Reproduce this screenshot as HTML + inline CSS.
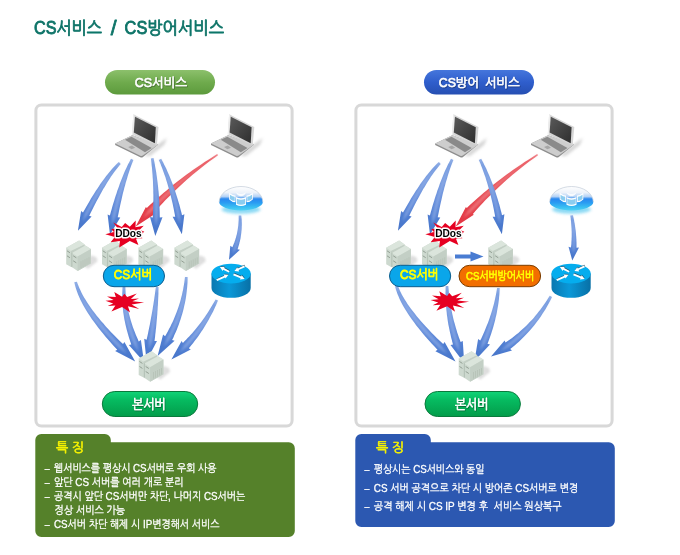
<!DOCTYPE html>
<html lang="ko"><head><meta charset="utf-8"><title>CS서비스 / CS방어서비스</title>
<style>html,body{margin:0;padding:0;background:#fff;}body{width:680px;height:555px;overflow:hidden;font-family:"Liberation Sans","NanumGothic","Noto Sans CJK KR",sans-serif;}svg{display:block;}</style>
</head><body>
<svg width="680" height="555" viewBox="0 0 680 555" font-family="'Liberation Sans','NanumGothic','Noto Sans CJK KR',sans-serif"><defs>
<filter id="soft" x="-20%" y="-20%" width="140%" height="140%"><feGaussianBlur stdDeviation="0.6"/></filter>
<filter id="tb" x="-5%" y="-20%" width="110%" height="140%"><feGaussianBlur stdDeviation="0.3"/></filter>
<filter id="blur3" x="-50%" y="-50%" width="200%" height="200%"><feGaussianBlur stdDeviation="1.2"/></filter>
<filter id="blur2" x="-50%" y="-50%" width="200%" height="200%"><feGaussianBlur stdDeviation="1.6"/></filter>
<filter id="blur1" x="-50%" y="-50%" width="200%" height="200%"><feGaussianBlur stdDeviation="0.9"/></filter>
<filter id="tsh" x="-20%" y="-20%" width="140%" height="160%"><feDropShadow dx="0.6" dy="0.8" stdDeviation="0.5" flood-color="#000" flood-opacity="0.45"/></filter>
<linearGradient id="gpill1" x1="0" y1="0" x2="0" y2="1"><stop offset="0" stop-color="#8cc06c"/><stop offset="0.5" stop-color="#6fab4d"/><stop offset="1" stop-color="#5c9a3c"/></linearGradient>
<linearGradient id="gpill2" x1="0" y1="0" x2="0" y2="1"><stop offset="0" stop-color="#4576dc"/><stop offset="0.5" stop-color="#2f5ecc"/><stop offset="1" stop-color="#264fb2"/></linearGradient>
<linearGradient id="gmain" x1="0" y1="0" x2="0" y2="1"><stop offset="0" stop-color="#10d478"/><stop offset="0.35" stop-color="#06ba60"/><stop offset="1" stop-color="#039c4a"/></linearGradient>
<linearGradient id="gscreen" x1="0" y1="0" x2="1" y2="1"><stop offset="0" stop-color="#5a5a5a"/><stop offset="1" stop-color="#2e2e2e"/></linearGradient>
<linearGradient id="grside" x1="0" y1="0" x2="1" y2="0"><stop offset="0" stop-color="#0a78b0"/><stop offset="0.45" stop-color="#0a98d8"/><stop offset="1" stop-color="#0870a6"/></linearGradient>
<linearGradient id="gdome" x1="0" y1="0" x2="0" y2="1"><stop offset="0" stop-color="#ffffff"/><stop offset="0.25" stop-color="#eef3fa"/><stop offset="0.42" stop-color="#b4d2f6"/><stop offset="0.52" stop-color="#2a88f0"/><stop offset="0.68" stop-color="#2c9cf2"/><stop offset="0.86" stop-color="#38bef2"/><stop offset="1" stop-color="#52d2f4"/></linearGradient>

<symbol id="laptop" overflow="visible">
  <path d="M30 42 L43 31 L53 24 L50 31 L36 42 Z" fill="#aaa" opacity="0.5" filter="url(#blur2)"/>
  <path d="M1.2 29.5 L18.3 21.2 L44.3 30.6 L29 43 Q27.7 43.9 26.3 43.3 L1.2 31 Z" fill="#8e8e8e"/>
  <path d="M1.2 29.5 L18.3 21.2 L44.3 30.6 L28.8 41.6 Q27.6 42.3 26.3 41.8 Z" fill="#cdcdcd"/>
  <path d="M11 25.7 L17.5 22.8 L37.7 34 L31 38.2 Z" fill="#8a8a8a"/>
  <path d="M14.2 33.1 L18 31.5 L21.2 33.7 L17.5 35.3 Z" fill="#a6a6a6"/>
  <path d="M19.3 0.2 L44.5 13.1 L42.9 31.2 L18 20.4 Z" fill="#d6d6d6"/>
  <path d="M19.3 0.2 L20.5 0.6 L19.2 20.9 L18 20.4 Z" fill="#f0f0f0"/>
  <path d="M21 2.7 L41.8 13.2 L40.9 29.3 L19.8 18.6 Z" fill="url(#gscreen)"/>
</symbol>

<symbol id="server" overflow="visible">
  <path d="M18 26 L25 15 L30.5 17 L31.5 21 L22 28.5 Z" fill="#8a8a8a" opacity="0.28" filter="url(#blur3)"/>
  <path d="M0.2 7.5 L13.1 0.3 L18.6 4.2 L18.6 20 L5 26.6 L0.2 24 Z" fill="#cdd9cf"/>
  <path d="M0.2 7.5 L13.1 0.3 L18.6 4.2 L5 10.8 Z" fill="#dbe5dc"/>
  <path d="M5 10.8 L18.6 4.2 L18.6 20 L5 26.6 Z" fill="#c3cfc5"/>
  <path d="M6.1 12.6 L19.4 5.3 L24.9 8.6 L24.9 23.3 L11.6 30.7 L6.1 27 Z" fill="#cdd9cf"/>
  <path d="M6.1 12.6 L19.4 5.3 L24.9 8.6 L11.6 16.3 Z" fill="#dbe5dc"/>
  <path d="M11.6 16.3 L24.9 8.6 L24.9 23.3 L11.6 30.7 Z" fill="#c3cfc5"/>
  <path d="M5.6 12.4 L6.3 12.1 L6.3 27.2 L5.6 26.8 Z" fill="#aebcb0"/>
  <g stroke="#8d998e" stroke-width="1" stroke-linecap="round" opacity="0.9">
    <path d="M1.3 10.7 L3.6 12.2"/><path d="M1.3 15.7 L3.6 17.2"/>
    <path d="M7.5 15.7 L10 17.3"/><path d="M7.5 20.7 L10 22.3"/>
  </g>
  <g stroke="#aebbaf" stroke-width="0.6" opacity="0.9">
    <path d="M15 21 L15 27.6"/><path d="M17 20 L17 26.6"/><path d="M19 19 L19 25.6"/><path d="M21 18 L21 24.4"/><path d="M23 17 L23 23.4"/>
  </g>
</symbol>

<symbol id="router" overflow="visible">
  <path d="M-19.6 0 L-19.6 14.3 A19.6 9.9 0 0 0 19.6 14.3 L19.6 0 Z" fill="url(#grside)"/>
  <ellipse cx="0" cy="0" rx="19.6" ry="9.9" fill="#05adee"/>
  <g fill="#234e66" transform="translate(0.3,-0.7)" opacity="0.85"><path d="M-1.5 -2.7 L-7.0 -5.6 L-6.4 -6.8 L-11.2 -6.6 L-8.5 -2.7 L-7.9 -3.9 L-2.3 -1.1Z"/><path d="M13.0 -8.1 L6.7 -5.2 L6.2 -6.4 L3.3 -2.6 L8.1 -2.2 L7.5 -3.5 L13.8 -6.3Z"/><path d="M-14.0 7.4 L-6.0 3.8 L-5.5 5.0 L-2.6 1.2 L-7.4 0.8 L-6.8 2.1 L-14.8 5.6Z"/><path d="M2.0 1.6 L9.4 4.7 L8.8 5.9 L13.6 5.4 L10.6 1.7 L10.1 2.9 L2.8 -0.2Z"/></g>
  <g fill="#fff"><path d="M-1.5 -2.7 L-7.0 -5.6 L-6.4 -6.8 L-11.2 -6.6 L-8.5 -2.7 L-7.9 -3.9 L-2.3 -1.1Z"/><path d="M13.0 -8.1 L6.7 -5.2 L6.2 -6.4 L3.3 -2.6 L8.1 -2.2 L7.5 -3.5 L13.8 -6.3Z"/><path d="M-14.0 7.4 L-6.0 3.8 L-5.5 5.0 L-2.6 1.2 L-7.4 0.8 L-6.8 2.1 L-14.8 5.6Z"/><path d="M2.0 1.6 L9.4 4.7 L8.8 5.9 L13.6 5.4 L10.6 1.7 L10.1 2.9 L2.8 -0.2Z"/></g>
</symbol>

<symbol id="dome" overflow="visible">
  <ellipse cx="0" cy="7.4" rx="19.5" ry="4.2" fill="#6fd0f2" opacity="0.8" filter="url(#blur2)"/>
  <path d="M-21.8 0 A21.8 15.6 0 0 1 21.8 0 A21.8 8.3 0 0 1 -21.8 0 Z" fill="url(#gdome)" filter="url(#soft)"/>
  <path d="M-21.8 0 A21.8 15.6 0 0 1 21.8 0" fill="none" stroke="#c2ccd8" stroke-width="0.7" filter="url(#soft)"/>
  <g filter="url(#soft)">
   <path d="M-11.8 -9.3 Q-8.5 -6.5 -5.5 -6.6 L-5.5 0.2 Q-9 0.2 -11.8 -2.6 Z" fill="#fff"/>
   <path d="M-5 -5 Q0 -2.6 5 -5 L5 2.6 Q0 5 -5 2.6 Z" fill="#fff"/>
   <path d="M11.8 -9.3 Q8.5 -6.5 5.5 -6.6 L5.5 0.2 Q9 0.2 11.8 -2.6 Z" fill="#fff"/>
   <path d="M-11 -7.3 Q-8.5 -5.4 -6.3 -5.3 L-6.3 -1 Q-9 -1.2 -11 -3 Z" fill="#8ccdf0"/>
   <path d="M-4.2 -3.4 Q0 -1.4 4.2 -3.4 L4.2 1.6 Q0 3.6 -4.2 1.6 Z" fill="#8ccdf0"/>
   <path d="M11 -7.3 Q8.5 -5.4 6.3 -5.3 L6.3 -1 Q9 -1.2 11 -3 Z" fill="#8ccdf0"/>
   <path d="M-5 -9.5 Q0 -7 5 -9.5 Q3 -5.5 0 -6 Q-3 -5.5 -5 -9.5Z" fill="#fff" opacity="0.9"/>
  </g>
</symbol>
</defs><rect width="680" height="555" fill="#fff"/><text y="34" font-size="17.5" fill="#0c7468" stroke="#0c7468" stroke-width="0.85" stroke-linejoin="round" filter="url(#tb)" xml:space="preserve"><tspan x="34" textLength="68" lengthAdjust="spacingAndGlyphs">CS서비스</tspan><tspan x="103.6" y="35" font-size="21" textLength="20" lengthAdjust="spacing"> / </tspan><tspan x="124.6" y="34" font-size="17.5" textLength="99.4" lengthAdjust="spacingAndGlyphs">CS방어서비스</tspan></text><rect x="105" y="70" width="110" height="24.5" rx="12.25" fill="url(#gpill1)"/><text x="161.0" y="87.0" font-size="12.5" font-weight="normal" fill="#fff" text-anchor="middle" textLength="52.4" lengthAdjust="spacingAndGlyphs" stroke="#fff" stroke-width="0.55" filter="url(#tsh)">CS서비스</text><rect x="424" y="70" width="110" height="24.5" rx="12.25" fill="url(#gpill2)"/><text y="87" font-size="12.5" fill="#fff" stroke="#fff" stroke-width="0.55" filter="url(#tsh)" xml:space="preserve"><tspan x="438.8" textLength="40.2" lengthAdjust="spacingAndGlyphs">CS방어</tspan><tspan x="481.6" textLength="38.2" lengthAdjust="spacingAndGlyphs"> 서비스</tspan></text><rect x="35.9" y="105" width="256.2" height="321" rx="5.5" ry="5.5" fill="#fff" stroke="#d8d8d8" stroke-width="3" filter="url(#tb)"/><use href="#laptop" x="114.0" y="114.0"/><use href="#laptop" x="209.8" y="114.0"/><use href="#server" x="66.0" y="240.3"/><use href="#server" x="101.8" y="240.3"/><use href="#server" x="138.2" y="240.3"/><use href="#server" x="174.2" y="240.3"/><use href="#dome" x="241.0" y="202.1"/><use href="#router" x="231.1" y="273.6"/><linearGradient id="ag1" gradientUnits="userSpaceOnUse" x1="217.6" y1="154.7" x2="135.7" y2="226.4"><stop offset="0" stop-color="#ea5a62" stop-opacity="0.75"/><stop offset="0.1" stop-color="#ea5a62" stop-opacity="1"/><stop offset="0.55" stop-color="#e8525a"/><stop offset="0.8" stop-color="#e4404a"/><stop offset="1" stop-color="#e23442"/></linearGradient><path d="M217.2 154.1 L214.1 156.0 L211.1 157.9 L208.0 159.9 L205.0 161.8 L201.9 163.9 L198.9 165.9 L195.9 168.0 L192.9 170.1 L189.9 172.2 L187.0 174.3 L184.0 176.5 L181.1 178.8 L178.1 181.0 L175.2 183.3 L172.3 185.6 L169.4 188.0 L166.6 190.4 L163.7 192.8 L160.9 195.2 L158.0 197.7 L155.2 200.2 L152.4 202.8 L149.6 205.3 L146.8 208.0 L145.9 207.1 L135.7 226.4 L153.8 214.7 L152.9 213.9 L155.4 211.1 L157.9 208.3 L160.4 205.5 L163.0 202.8 L165.5 200.1 L168.1 197.5 L170.7 194.9 L173.3 192.3 L176.0 189.7 L178.6 187.2 L181.3 184.7 L184.0 182.3 L186.7 179.8 L189.4 177.4 L192.2 175.1 L195.0 172.7 L197.8 170.4 L200.6 168.2 L203.4 165.9 L206.3 163.7 L209.2 161.6 L212.1 159.4 L215.0 157.4 L218.0 155.3Z" fill="url(#ag1)" filter="url(#soft)"/><path d="M217.4 154.4 L214.4 156.4 L211.4 158.4 L208.4 160.4 L205.4 162.4 L202.4 164.5 L199.4 166.6 L196.5 168.7 L193.5 170.8 L190.6 173.0 L187.7 175.2 L184.8 177.5 L181.9 179.8 L179.1 182.1 L176.2 184.4 L173.4 186.8 L170.6 189.2 L167.8 191.7 L165.0 194.1 L162.2 196.6 L159.5 199.2 L156.7 201.8 L154.0 204.4 L151.3 207.0 L148.6 209.7 L143.3 217.7 L151.2 212.1 L153.7 209.4 L156.3 206.7 L158.9 204.0 L161.5 201.3 L164.2 198.7 L166.8 196.1 L169.5 193.6 L172.2 191.0 L174.9 188.5 L177.6 186.1 L180.4 183.6 L183.1 181.2 L185.9 178.9 L188.7 176.5 L191.5 174.2 L194.4 172.0 L197.2 169.7 L200.1 167.5 L203.0 165.3 L205.9 163.2 L208.9 161.1 L211.8 159.0 L214.8 157.0 L217.8 155.0Z" fill="#f4a2a6" opacity="0.45" filter="url(#blur1)"/><linearGradient id="ag2" gradientUnits="userSpaceOnUse" x1="119.8" y1="163.0" x2="77.9" y2="230.8"><stop offset="0" stop-color="#6a92dc" stop-opacity="0.75"/><stop offset="0.08" stop-color="#7298de" stop-opacity="1"/><stop offset="0.3" stop-color="#789ce0"/><stop offset="0.55" stop-color="#668edb"/><stop offset="0.8" stop-color="#4f7dd1"/><stop offset="1" stop-color="#4674c8"/></linearGradient><path d="M118.9 162.1 L117.5 163.3 L116.2 164.6 L114.8 166.0 L113.4 167.5 L112.0 169.1 L110.6 170.7 L109.1 172.4 L107.7 174.2 L106.2 176.0 L104.8 177.9 L103.3 179.9 L101.8 182.0 L100.3 184.1 L98.8 186.4 L97.3 188.7 L95.7 191.0 L94.2 193.5 L92.6 196.0 L91.0 198.6 L89.5 201.2 L87.9 204.0 L86.3 206.8 L84.6 209.7 L83.0 212.6 L81.1 211.1 L77.9 230.8 L91.6 216.5 L89.2 215.8 L90.7 212.8 L92.1 209.9 L93.6 207.1 L95.0 204.3 L96.4 201.6 L97.8 198.9 L99.2 196.4 L100.5 193.9 L101.9 191.5 L103.2 189.1 L104.6 186.9 L105.9 184.7 L107.2 182.5 L108.5 180.5 L109.8 178.5 L111.0 176.6 L112.3 174.8 L113.5 173.0 L114.8 171.3 L116.0 169.7 L117.2 168.2 L118.4 166.7 L119.6 165.3 L120.7 163.9Z" fill="url(#ag2)" filter="url(#soft)"/><path d="M119.4 162.6 L118.1 163.9 L116.8 165.2 L115.5 166.6 L114.1 168.1 L112.8 169.7 L111.4 171.4 L110.1 173.1 L108.7 174.9 L107.3 176.7 L105.9 178.7 L104.4 180.7 L103.0 182.8 L101.5 184.9 L100.1 187.2 L98.6 189.5 L97.1 191.9 L95.6 194.3 L94.1 196.8 L92.6 199.4 L91.1 202.1 L89.5 204.9 L88.0 207.7 L86.4 210.6 L84.8 213.5 L82.3 221.6 L87.4 214.9 L88.9 211.9 L90.4 209.0 L91.9 206.2 L93.4 203.4 L94.8 200.7 L96.3 198.1 L97.7 195.5 L99.1 193.1 L100.6 190.7 L101.9 188.3 L103.3 186.1 L104.7 183.9 L106.1 181.8 L107.4 179.8 L108.7 177.8 L110.1 175.9 L111.4 174.1 L112.7 172.3 L114.0 170.7 L115.2 169.1 L116.5 167.5 L117.7 166.1 L119.0 164.7 L120.2 163.4Z" fill="#a9c1ee" opacity="0.45" filter="url(#blur1)"/><linearGradient id="ag3" gradientUnits="userSpaceOnUse" x1="132.2" y1="159.4" x2="110.0" y2="234.5"><stop offset="0" stop-color="#6a92dc" stop-opacity="0.75"/><stop offset="0.08" stop-color="#7298de" stop-opacity="1"/><stop offset="0.3" stop-color="#789ce0"/><stop offset="0.55" stop-color="#668edb"/><stop offset="0.8" stop-color="#4f7dd1"/><stop offset="1" stop-color="#4674c8"/></linearGradient><path d="M131.0 158.8 L130.1 160.6 L129.1 162.4 L128.1 164.3 L127.2 166.2 L126.3 168.2 L125.3 170.3 L124.4 172.3 L123.5 174.5 L122.6 176.7 L121.7 178.9 L120.8 181.2 L119.9 183.5 L119.1 185.9 L118.2 188.4 L117.3 190.8 L116.5 193.4 L115.6 196.0 L114.8 198.6 L114.0 201.3 L113.1 204.0 L112.3 206.8 L111.5 209.7 L110.7 212.6 L109.9 215.5 L107.6 214.5 L110.0 234.5 L120.3 217.4 L117.7 217.3 L118.3 214.4 L118.9 211.5 L119.5 208.6 L120.1 205.8 L120.7 203.1 L121.3 200.4 L121.9 197.7 L122.5 195.1 L123.1 192.6 L123.8 190.1 L124.4 187.6 L125.1 185.2 L125.7 182.8 L126.4 180.5 L127.1 178.2 L127.7 176.0 L128.4 173.8 L129.1 171.7 L129.8 169.6 L130.5 167.6 L131.2 165.6 L131.9 163.7 L132.7 161.8 L133.4 160.0Z" fill="url(#ag3)" filter="url(#soft)"/><path d="M131.7 159.2 L130.8 161.0 L129.9 162.8 L129.0 164.7 L128.2 166.6 L127.3 168.6 L126.4 170.7 L125.6 172.8 L124.7 174.9 L123.9 177.1 L123.1 179.4 L122.2 181.7 L121.4 184.0 L120.6 186.4 L119.8 188.8 L119.0 191.3 L118.2 193.9 L117.4 196.5 L116.7 199.1 L115.9 201.8 L115.2 204.6 L114.4 207.4 L113.7 210.2 L112.9 213.1 L112.2 216.0 L112.0 224.5 L115.5 216.8 L116.1 213.8 L116.7 210.9 L117.4 208.1 L118.1 205.3 L118.7 202.6 L119.4 199.9 L120.1 197.2 L120.8 194.6 L121.5 192.1 L122.2 189.6 L122.9 187.1 L123.6 184.7 L124.3 182.3 L125.0 180.0 L125.8 177.8 L126.5 175.6 L127.3 173.4 L128.0 171.3 L128.8 169.2 L129.5 167.2 L130.3 165.3 L131.1 163.3 L131.9 161.5 L132.7 159.6Z" fill="#a9c1ee" opacity="0.45" filter="url(#blur1)"/><linearGradient id="ag4" gradientUnits="userSpaceOnUse" x1="152.2" y1="158.2" x2="155.3" y2="236.0"><stop offset="0" stop-color="#6a92dc" stop-opacity="0.75"/><stop offset="0.08" stop-color="#7298de" stop-opacity="1"/><stop offset="0.3" stop-color="#789ce0"/><stop offset="0.55" stop-color="#668edb"/><stop offset="0.8" stop-color="#4f7dd1"/><stop offset="1" stop-color="#4674c8"/></linearGradient><path d="M150.9 158.4 L151.2 160.8 L151.5 163.2 L151.7 165.6 L152.0 168.0 L152.2 170.4 L152.4 172.8 L152.6 175.2 L152.7 177.6 L152.9 180.1 L153.0 182.5 L153.1 184.9 L153.2 187.4 L153.3 189.9 L153.3 192.3 L153.4 194.8 L153.4 197.3 L153.4 199.8 L153.3 202.3 L153.3 204.8 L153.2 207.3 L153.1 209.8 L153.0 212.4 L152.9 214.9 L152.8 217.4 L150.0 216.9 L155.3 236.0 L162.5 217.2 L159.8 217.6 L159.7 215.0 L159.7 212.4 L159.6 209.8 L159.5 207.3 L159.4 204.7 L159.3 202.2 L159.1 199.6 L159.0 197.1 L158.8 194.6 L158.6 192.1 L158.3 189.6 L158.1 187.1 L157.8 184.6 L157.5 182.1 L157.2 179.7 L156.9 177.2 L156.5 174.8 L156.2 172.3 L155.8 169.9 L155.3 167.5 L154.9 165.1 L154.5 162.7 L154.0 160.3 L153.5 158.0Z" fill="url(#ag4)" filter="url(#soft)"/><path d="M151.7 158.3 L152.0 160.7 L152.3 163.0 L152.7 165.4 L153.0 167.8 L153.2 170.2 L153.5 172.7 L153.7 175.1 L153.9 177.5 L154.1 179.9 L154.3 182.4 L154.5 184.8 L154.6 187.3 L154.7 189.8 L154.8 192.3 L154.9 194.7 L155.0 197.2 L155.0 199.7 L155.1 202.3 L155.1 204.8 L155.1 207.3 L155.0 209.8 L155.0 212.4 L154.9 214.9 L154.8 217.5 L156.1 225.8 L157.7 217.6 L157.8 215.0 L157.8 212.4 L157.7 209.8 L157.7 207.3 L157.6 204.7 L157.6 202.2 L157.5 199.7 L157.3 197.2 L157.2 194.6 L157.0 192.1 L156.9 189.7 L156.7 187.2 L156.5 184.7 L156.2 182.2 L156.0 179.8 L155.7 177.3 L155.4 174.9 L155.1 172.5 L154.7 170.1 L154.4 167.6 L154.0 165.2 L153.6 162.9 L153.2 160.5 L152.7 158.1Z" fill="#a9c1ee" opacity="0.45" filter="url(#blur1)"/><linearGradient id="ag5" gradientUnits="userSpaceOnUse" x1="160.0" y1="159.4" x2="181.9" y2="234.2"><stop offset="0" stop-color="#6a92dc" stop-opacity="0.75"/><stop offset="0.08" stop-color="#7298de" stop-opacity="1"/><stop offset="0.3" stop-color="#789ce0"/><stop offset="0.55" stop-color="#668edb"/><stop offset="0.8" stop-color="#4f7dd1"/><stop offset="1" stop-color="#4674c8"/></linearGradient><path d="M158.8 160.0 L159.7 162.0 L160.6 164.1 L161.4 166.2 L162.2 168.3 L163.0 170.5 L163.8 172.7 L164.6 174.9 L165.4 177.1 L166.1 179.4 L166.8 181.7 L167.5 184.0 L168.2 186.4 L168.9 188.7 L169.6 191.1 L170.2 193.6 L170.8 196.0 L171.4 198.5 L172.0 201.0 L172.6 203.6 L173.1 206.1 L173.7 208.7 L174.2 211.4 L174.7 214.0 L175.2 216.7 L172.6 216.7 L181.9 234.2 L184.4 214.3 L182.0 215.3 L181.4 212.6 L180.7 209.9 L180.0 207.3 L179.3 204.6 L178.5 202.1 L177.8 199.5 L177.0 197.0 L176.2 194.5 L175.4 192.0 L174.6 189.6 L173.7 187.2 L172.9 184.8 L172.0 182.5 L171.1 180.2 L170.2 177.9 L169.3 175.7 L168.3 173.4 L167.3 171.3 L166.4 169.1 L165.4 167.0 L164.3 164.9 L163.3 162.8 L162.2 160.8 L161.2 158.8Z" fill="url(#ag5)" filter="url(#soft)"/><path d="M159.5 159.6 L160.4 161.7 L161.4 163.7 L162.3 165.8 L163.1 167.9 L164.0 170.1 L164.9 172.3 L165.7 174.5 L166.5 176.7 L167.3 179.0 L168.1 181.2 L168.8 183.6 L169.6 185.9 L170.3 188.3 L171.0 190.7 L171.7 193.1 L172.4 195.6 L173.0 198.1 L173.7 200.6 L174.3 203.1 L174.9 205.7 L175.5 208.3 L176.1 210.9 L176.6 213.6 L177.2 216.3 L180.3 224.1 L180.0 215.7 L179.4 213.0 L178.8 210.3 L178.1 207.7 L177.5 205.1 L176.8 202.5 L176.1 200.0 L175.4 197.4 L174.6 194.9 L173.9 192.5 L173.1 190.0 L172.3 187.6 L171.5 185.3 L170.7 182.9 L169.9 180.6 L169.0 178.3 L168.1 176.1 L167.2 173.9 L166.3 171.7 L165.4 169.5 L164.5 167.4 L163.5 165.3 L162.5 163.2 L161.5 161.2 L160.5 159.2Z" fill="#a9c1ee" opacity="0.45" filter="url(#blur1)"/><linearGradient id="ag6" gradientUnits="userSpaceOnUse" x1="240.0" y1="215.5" x2="229.0" y2="259.8"><stop offset="0" stop-color="#6a92dc" stop-opacity="0.75"/><stop offset="0.08" stop-color="#7298de" stop-opacity="1"/><stop offset="0.3" stop-color="#789ce0"/><stop offset="0.55" stop-color="#668edb"/><stop offset="0.8" stop-color="#4f7dd1"/><stop offset="1" stop-color="#4674c8"/></linearGradient><path d="M238.7 215.6 L238.7 217.0 L238.7 218.5 L238.7 219.9 L238.6 221.3 L238.5 222.7 L238.4 224.1 L238.3 225.4 L238.1 226.8 L237.9 228.2 L237.7 229.5 L237.5 230.8 L237.2 232.2 L237.0 233.5 L236.7 234.8 L236.3 236.1 L236.0 237.4 L235.6 238.6 L235.2 239.9 L234.8 241.1 L234.4 242.4 L233.9 243.6 L233.4 244.8 L232.9 246.0 L232.4 247.2 L230.3 245.8 L229.0 259.8 L240.0 249.8 L237.5 249.3 L238.0 247.9 L238.4 246.6 L238.8 245.3 L239.2 243.9 L239.5 242.5 L239.9 241.2 L240.2 239.8 L240.5 238.4 L240.7 237.0 L240.9 235.6 L241.1 234.2 L241.3 232.8 L241.4 231.4 L241.6 230.0 L241.7 228.5 L241.7 227.1 L241.8 225.7 L241.8 224.2 L241.8 222.8 L241.7 221.3 L241.7 219.8 L241.6 218.4 L241.4 216.9 L241.3 215.4Z" fill="url(#ag6)" filter="url(#soft)"/><path d="M239.5 215.5 L239.5 217.0 L239.5 218.4 L239.5 219.9 L239.5 221.3 L239.5 222.7 L239.4 224.1 L239.3 225.5 L239.2 226.9 L239.0 228.3 L238.8 229.6 L238.6 231.0 L238.4 232.4 L238.2 233.7 L237.9 235.0 L237.6 236.3 L237.3 237.7 L237.0 239.0 L236.6 240.3 L236.2 241.5 L235.8 242.8 L235.3 244.1 L234.9 245.3 L234.4 246.6 L233.9 247.8 L232.7 253.7 L236.0 248.7 L236.5 247.4 L237.0 246.1 L237.4 244.8 L237.8 243.5 L238.2 242.1 L238.5 240.8 L238.9 239.4 L239.2 238.1 L239.4 236.7 L239.7 235.4 L239.9 234.0 L240.1 232.6 L240.3 231.2 L240.5 229.8 L240.6 228.4 L240.7 227.0 L240.7 225.6 L240.8 224.2 L240.8 222.7 L240.8 221.3 L240.8 219.9 L240.7 218.4 L240.7 216.9 L240.5 215.5Z" fill="#a9c1ee" opacity="0.45" filter="url(#blur1)"/><linearGradient id="ag7" gradientUnits="userSpaceOnUse" x1="75.6" y1="282.0" x2="135.2" y2="361.5"><stop offset="0" stop-color="#6a92dc" stop-opacity="0.75"/><stop offset="0.08" stop-color="#7298de" stop-opacity="1"/><stop offset="0.3" stop-color="#789ce0"/><stop offset="0.55" stop-color="#668edb"/><stop offset="0.8" stop-color="#4f7dd1"/><stop offset="1" stop-color="#4674c8"/></linearGradient><path d="M74.3 282.3 L74.9 284.7 L75.5 287.1 L76.3 289.5 L77.2 292.0 L78.1 294.5 L79.2 297.1 L80.4 299.7 L81.7 302.3 L83.1 305.0 L84.7 307.7 L86.3 310.4 L88.0 313.2 L89.9 316.1 L91.8 318.9 L93.9 321.8 L96.1 324.8 L98.3 327.8 L100.7 330.8 L103.2 333.8 L105.8 336.9 L108.5 340.1 L111.3 343.2 L114.2 346.5 L117.3 349.7 L115.1 351.1 L135.2 361.5 L124.4 342.0 L123.0 344.1 L119.8 341.1 L116.8 338.1 L113.9 335.1 L111.1 332.2 L108.4 329.3 L105.8 326.4 L103.4 323.6 L101.0 320.9 L98.7 318.1 L96.5 315.4 L94.5 312.8 L92.5 310.2 L90.6 307.6 L88.9 305.1 L87.2 302.6 L85.7 300.1 L84.2 297.7 L82.8 295.3 L81.6 292.9 L80.5 290.6 L79.4 288.3 L78.5 286.1 L77.6 283.8 L76.9 281.7Z" fill="url(#ag7)" filter="url(#soft)"/><path d="M75.1 282.1 L75.7 284.4 L76.4 286.8 L77.2 289.2 L78.1 291.6 L79.1 294.0 L80.3 296.5 L81.5 299.1 L82.9 301.7 L84.3 304.3 L85.9 306.9 L87.6 309.6 L89.3 312.3 L91.2 315.1 L93.2 317.9 L95.3 320.8 L97.5 323.6 L99.8 326.6 L102.2 329.5 L104.7 332.5 L107.4 335.6 L110.1 338.6 L112.9 341.7 L115.9 344.9 L118.9 348.1 L126.7 353.6 L121.3 345.7 L118.2 342.6 L115.2 339.6 L112.4 336.5 L109.6 333.6 L106.9 330.6 L104.4 327.7 L101.9 324.8 L99.6 322.0 L97.3 319.2 L95.2 316.5 L93.1 313.7 L91.2 311.1 L89.4 308.4 L87.6 305.8 L86.0 303.3 L84.5 300.7 L83.1 298.2 L81.8 295.8 L80.6 293.4 L79.5 291.0 L78.5 288.7 L77.6 286.4 L76.8 284.1 L76.1 281.9Z" fill="#a9c1ee" opacity="0.45" filter="url(#blur1)"/><linearGradient id="ag8" gradientUnits="userSpaceOnUse" x1="124.0" y1="286.0" x2="144.0" y2="362.0"><stop offset="0" stop-color="#6a92dc" stop-opacity="0.75"/><stop offset="0.08" stop-color="#7298de" stop-opacity="1"/><stop offset="0.3" stop-color="#789ce0"/><stop offset="0.55" stop-color="#668edb"/><stop offset="0.8" stop-color="#4f7dd1"/><stop offset="1" stop-color="#4674c8"/></linearGradient><path d="M122.7 285.9 L122.5 288.3 L122.4 290.6 L122.3 292.9 L122.2 295.3 L122.2 297.6 L122.3 300.0 L122.4 302.4 L122.5 304.8 L122.7 307.2 L123.0 309.6 L123.2 312.0 L123.6 314.4 L124.0 316.9 L124.4 319.4 L124.9 321.8 L125.4 324.3 L126.0 326.8 L126.6 329.3 L127.3 331.8 L128.0 334.3 L128.8 336.9 L129.6 339.4 L130.4 342.0 L131.3 344.5 L128.8 345.0 L144.0 362.0 L140.9 340.1 L138.7 341.5 L137.7 339.1 L136.7 336.8 L135.7 334.4 L134.8 332.1 L133.9 329.7 L133.0 327.4 L132.2 325.0 L131.5 322.7 L130.8 320.4 L130.1 318.0 L129.5 315.7 L128.9 313.4 L128.3 311.1 L127.8 308.8 L127.4 306.5 L127.0 304.2 L126.6 301.9 L126.3 299.7 L126.0 297.4 L125.8 295.1 L125.6 292.8 L125.5 290.6 L125.4 288.3 L125.3 286.1Z" fill="url(#ag8)" filter="url(#soft)"/><path d="M123.5 286.0 L123.3 288.3 L123.3 290.6 L123.2 292.9 L123.3 295.2 L123.3 297.5 L123.4 299.9 L123.6 302.2 L123.8 304.6 L124.1 307.0 L124.4 309.4 L124.7 311.7 L125.1 314.1 L125.6 316.6 L126.0 319.0 L126.6 321.4 L127.2 323.8 L127.8 326.3 L128.5 328.7 L129.2 331.2 L129.9 333.7 L130.8 336.2 L131.6 338.6 L132.5 341.1 L133.5 343.7 L138.6 351.8 L136.6 342.4 L135.6 340.0 L134.6 337.5 L133.7 335.1 L132.8 332.7 L132.0 330.3 L131.2 327.9 L130.4 325.5 L129.7 323.2 L129.0 320.8 L128.4 318.4 L127.9 316.1 L127.3 313.7 L126.9 311.4 L126.4 309.0 L126.0 306.7 L125.7 304.4 L125.4 302.1 L125.1 299.8 L124.9 297.4 L124.8 295.2 L124.6 292.9 L124.6 290.6 L124.5 288.3 L124.5 286.0Z" fill="#a9c1ee" opacity="0.45" filter="url(#blur1)"/><linearGradient id="ag9" gradientUnits="userSpaceOnUse" x1="157.2" y1="287.0" x2="146.5" y2="361.0"><stop offset="0" stop-color="#6a92dc" stop-opacity="0.75"/><stop offset="0.08" stop-color="#7298de" stop-opacity="1"/><stop offset="0.3" stop-color="#789ce0"/><stop offset="0.55" stop-color="#668edb"/><stop offset="0.8" stop-color="#4f7dd1"/><stop offset="1" stop-color="#4674c8"/></linearGradient><path d="M155.9 286.9 L155.6 289.1 L155.3 291.3 L155.0 293.5 L154.7 295.7 L154.4 297.8 L154.1 300.0 L153.7 302.2 L153.4 304.4 L153.0 306.6 L152.7 308.8 L152.3 311.0 L151.9 313.2 L151.5 315.4 L151.1 317.6 L150.7 319.8 L150.3 322.0 L149.9 324.2 L149.4 326.4 L149.0 328.6 L148.5 330.8 L148.1 333.1 L147.6 335.3 L147.1 337.5 L146.6 339.7 L144.2 338.8 L146.5 361.0 L157.0 341.0 L154.5 341.1 L154.8 338.8 L155.1 336.5 L155.3 334.2 L155.6 332.0 L155.8 329.7 L156.1 327.4 L156.3 325.2 L156.5 322.9 L156.7 320.6 L156.9 318.4 L157.1 316.1 L157.3 313.9 L157.4 311.6 L157.6 309.4 L157.7 307.1 L157.9 304.9 L158.0 302.7 L158.1 300.4 L158.2 298.2 L158.3 296.0 L158.4 293.7 L158.4 291.5 L158.5 289.3 L158.5 287.1Z" fill="url(#ag9)" filter="url(#soft)"/><path d="M156.7 287.0 L156.4 289.2 L156.2 291.3 L156.0 293.5 L155.7 295.7 L155.5 297.9 L155.2 300.1 L155.0 302.4 L154.7 304.6 L154.4 306.8 L154.1 309.0 L153.8 311.2 L153.5 313.4 L153.1 315.6 L152.8 317.8 L152.5 320.0 L152.1 322.3 L151.7 324.5 L151.4 326.7 L151.0 328.9 L150.6 331.2 L150.2 333.4 L149.7 335.6 L149.3 337.9 L148.9 340.1 L148.9 349.7 L152.2 340.7 L152.5 338.4 L152.9 336.2 L153.2 333.9 L153.5 331.6 L153.8 329.4 L154.1 327.1 L154.4 324.9 L154.7 322.6 L155.0 320.4 L155.2 318.2 L155.5 315.9 L155.7 313.7 L155.9 311.4 L156.2 309.2 L156.4 307.0 L156.6 304.8 L156.7 302.5 L156.9 300.3 L157.1 298.1 L157.2 295.9 L157.4 293.7 L157.5 291.5 L157.6 289.2 L157.7 287.0Z" fill="#a9c1ee" opacity="0.45" filter="url(#blur1)"/><linearGradient id="ag10" gradientUnits="userSpaceOnUse" x1="186.3" y1="277.0" x2="157.6" y2="356.0"><stop offset="0" stop-color="#6a92dc" stop-opacity="0.75"/><stop offset="0.08" stop-color="#7298de" stop-opacity="1"/><stop offset="0.3" stop-color="#789ce0"/><stop offset="0.55" stop-color="#668edb"/><stop offset="0.8" stop-color="#4f7dd1"/><stop offset="1" stop-color="#4674c8"/></linearGradient><path d="M185.0 276.9 L184.7 279.5 L184.4 282.1 L184.0 284.6 L183.5 287.2 L183.1 289.7 L182.5 292.3 L182.0 294.8 L181.3 297.3 L180.7 299.8 L180.0 302.3 L179.2 304.8 L178.4 307.3 L177.5 309.7 L176.6 312.2 L175.7 314.6 L174.7 317.1 L173.7 319.5 L172.6 321.9 L171.4 324.3 L170.3 326.7 L169.0 329.1 L167.8 331.5 L166.4 333.9 L165.1 336.2 L163.1 334.6 L157.6 356.0 L174.6 340.8 L172.1 340.0 L173.4 337.4 L174.5 334.8 L175.7 332.3 L176.8 329.7 L177.8 327.1 L178.8 324.4 L179.7 321.8 L180.6 319.2 L181.4 316.6 L182.2 314.0 L182.9 311.4 L183.6 308.8 L184.2 306.1 L184.8 303.5 L185.3 300.9 L185.8 298.2 L186.2 295.6 L186.5 293.0 L186.8 290.3 L187.1 287.7 L187.3 285.0 L187.5 282.4 L187.6 279.7 L187.6 277.1Z" fill="url(#ag10)" filter="url(#soft)"/><path d="M185.8 277.0 L185.5 279.6 L185.3 282.2 L184.9 284.8 L184.6 287.3 L184.2 289.9 L183.7 292.5 L183.2 295.0 L182.6 297.6 L182.0 300.1 L181.4 302.6 L180.7 305.2 L179.9 307.7 L179.1 310.2 L178.3 312.7 L177.4 315.2 L176.4 317.7 L175.4 320.2 L174.4 322.6 L173.3 325.1 L172.2 327.6 L171.0 330.0 L169.7 332.5 L168.4 334.9 L167.1 337.3 L164.1 346.4 L170.1 338.9 L171.4 336.4 L172.6 333.9 L173.8 331.3 L174.9 328.8 L176.0 326.3 L177.0 323.7 L178.0 321.2 L178.9 318.6 L179.8 316.0 L180.6 313.5 L181.4 310.9 L182.1 308.3 L182.8 305.7 L183.4 303.1 L184.0 300.6 L184.5 298.0 L184.9 295.4 L185.4 292.8 L185.7 290.1 L186.1 287.5 L186.3 284.9 L186.6 282.3 L186.7 279.7 L186.8 277.0Z" fill="#a9c1ee" opacity="0.45" filter="url(#blur1)"/><linearGradient id="ag11" gradientUnits="userSpaceOnUse" x1="216.8" y1="300.0" x2="171.4" y2="359.4"><stop offset="0" stop-color="#6a92dc" stop-opacity="0.75"/><stop offset="0.08" stop-color="#7298de" stop-opacity="1"/><stop offset="0.3" stop-color="#789ce0"/><stop offset="0.55" stop-color="#668edb"/><stop offset="0.8" stop-color="#4f7dd1"/><stop offset="1" stop-color="#4674c8"/></linearGradient><path d="M215.6 299.4 L214.5 301.5 L213.3 303.5 L212.1 305.5 L210.9 307.5 L209.7 309.5 L208.5 311.5 L207.2 313.4 L206.0 315.3 L204.7 317.2 L203.4 319.0 L202.0 320.9 L200.7 322.7 L199.3 324.5 L197.9 326.3 L196.5 328.0 L195.1 329.8 L193.6 331.5 L192.2 333.2 L190.7 334.8 L189.2 336.5 L187.6 338.1 L186.1 339.7 L184.5 341.3 L182.9 342.9 L181.6 341.0 L171.4 359.4 L190.8 349.5 L188.8 348.3 L190.3 346.5 L191.7 344.7 L193.2 342.9 L194.6 341.1 L196.0 339.2 L197.4 337.4 L198.8 335.5 L200.1 333.6 L201.4 331.6 L202.7 329.7 L203.9 327.7 L205.1 325.7 L206.3 323.7 L207.5 321.7 L208.7 319.7 L209.8 317.6 L210.9 315.6 L212.0 313.5 L213.1 311.4 L214.1 309.2 L215.1 307.1 L216.1 304.9 L217.0 302.8 L218.0 300.6Z" fill="url(#ag11)" filter="url(#soft)"/><path d="M216.3 299.8 L215.2 301.9 L214.1 303.9 L213.0 306.0 L211.9 308.0 L210.7 310.0 L209.5 312.0 L208.3 314.0 L207.1 316.0 L205.8 317.9 L204.6 319.8 L203.3 321.7 L202.0 323.6 L200.6 325.4 L199.3 327.3 L197.9 329.1 L196.5 330.9 L195.1 332.6 L193.7 334.4 L192.2 336.1 L190.7 337.8 L189.2 339.5 L187.7 341.2 L186.2 342.8 L184.6 344.4 L179.7 352.2 L187.1 346.7 L188.6 345.0 L190.1 343.3 L191.6 341.5 L193.0 339.7 L194.5 338.0 L195.9 336.1 L197.3 334.3 L198.6 332.5 L200.0 330.6 L201.3 328.7 L202.6 326.8 L203.8 324.9 L205.1 322.9 L206.3 320.9 L207.5 319.0 L208.7 317.0 L209.9 314.9 L211.0 312.9 L212.1 310.8 L213.2 308.7 L214.2 306.6 L215.3 304.5 L216.3 302.4 L217.3 300.2Z" fill="#a9c1ee" opacity="0.45" filter="url(#blur1)"/><path d="M125.1 223.1 L129.8 226.8 L135.7 220.4 L135.5 227.3 L143.7 225.7 L139.7 229.7 L144.3 231.7 L140.4 234.7 L142.4 238.3 L136.0 238.7 L138.4 244.9 L129.8 241.0 L119.2 247.6 L119.9 241.0 L110.6 242.3 L114.8 237.0 L105.3 234.3 L113.9 232.1 L111.2 229.0 L117.9 228.6 L113.2 222.4 L121.8 227.1Z" fill="#e60020" filter="url(#soft)"/><text x="128.4" y="236.8" font-size="10.5" font-weight="bold" fill="#000" text-anchor="middle" textLength="26.5" lengthAdjust="spacingAndGlyphs" stroke="#fff" stroke-width="3" paint-order="stroke" stroke-linejoin="round" filter="url(#tb)">DDos</text><path d="M124.3 293.8 L127.2 297.1 L136.8 293.5 L130.9 299.0 L139.0 298.6 L132.4 301.2 L144.1 302.6 L131.6 304.5 L139.3 308.9 L127.9 306.3 L130.1 312.6 L122.1 307.1 L111.4 311.5 L115.4 305.6 L107.7 306.0 L113.2 303.4 L105.5 300.8 L113.6 300.1 L107.0 296.4 L115.8 297.1 L114.3 292.0 L122.1 296.8Z" fill="#e60020" filter="url(#soft)"/><rect x="103.3" y="265.3" width="61.2" height="21.4" rx="10.7" fill="#0aa6ea" stroke="#0b5d8e" stroke-width="1"/><text x="133.2" y="279.4" font-size="13" font-weight="normal" fill="#ffff00" text-anchor="middle" textLength="38.8" lengthAdjust="spacingAndGlyphs" stroke="#ffff00" stroke-width="0.8" filter="url(#tb)">CS서버</text><use href="#server" x="138.5" y="351.0"/><rect x="102.3" y="391.5" width="95.4" height="25" rx="12.5" fill="url(#gmain)" stroke="#0a7a3c" stroke-width="1"/><text x="149.0" y="408.8" font-size="13.5" font-weight="normal" fill="#fff" text-anchor="middle" textLength="33.6" lengthAdjust="spacingAndGlyphs" stroke="#fff" stroke-width="0.6" filter="url(#tsh)">본서버</text><rect x="355.9" y="105" width="256.2" height="321" rx="5.5" ry="5.5" fill="#fff" stroke="#d8d8d8" stroke-width="3" filter="url(#tb)"/><use href="#laptop" x="434.0" y="114.0"/><use href="#laptop" x="529.8" y="114.0"/><use href="#server" x="386.0" y="240.3"/><use href="#server" x="421.8" y="240.3"/><use href="#server" x="488.0" y="240.3"/><use href="#dome" x="571.5" y="202.1"/><use href="#router" x="571.1" y="273.6"/><linearGradient id="ag12" gradientUnits="userSpaceOnUse" x1="537.6" y1="154.7" x2="455.7" y2="226.4"><stop offset="0" stop-color="#ea5a62" stop-opacity="0.75"/><stop offset="0.1" stop-color="#ea5a62" stop-opacity="1"/><stop offset="0.55" stop-color="#e8525a"/><stop offset="0.8" stop-color="#e4404a"/><stop offset="1" stop-color="#e23442"/></linearGradient><path d="M537.2 154.1 L534.1 156.0 L531.1 157.9 L528.0 159.9 L525.0 161.8 L521.9 163.9 L518.9 165.9 L515.9 168.0 L512.9 170.1 L509.9 172.2 L507.0 174.3 L504.0 176.5 L501.1 178.8 L498.1 181.0 L495.2 183.3 L492.3 185.6 L489.4 188.0 L486.6 190.4 L483.7 192.8 L480.9 195.2 L478.0 197.7 L475.2 200.2 L472.4 202.8 L469.6 205.3 L466.8 208.0 L465.9 207.1 L455.7 226.4 L473.8 214.7 L472.9 213.9 L475.4 211.1 L477.9 208.3 L480.4 205.5 L483.0 202.8 L485.5 200.1 L488.1 197.5 L490.7 194.9 L493.3 192.3 L496.0 189.7 L498.6 187.2 L501.3 184.7 L504.0 182.3 L506.7 179.8 L509.4 177.4 L512.2 175.1 L515.0 172.7 L517.8 170.4 L520.6 168.2 L523.4 165.9 L526.3 163.7 L529.2 161.6 L532.1 159.4 L535.0 157.4 L538.0 155.3Z" fill="url(#ag12)" filter="url(#soft)"/><path d="M537.4 154.4 L534.4 156.4 L531.4 158.4 L528.4 160.4 L525.4 162.4 L522.4 164.5 L519.4 166.6 L516.5 168.7 L513.5 170.8 L510.6 173.0 L507.7 175.2 L504.8 177.5 L501.9 179.8 L499.1 182.1 L496.2 184.4 L493.4 186.8 L490.6 189.2 L487.8 191.7 L485.0 194.1 L482.2 196.6 L479.5 199.2 L476.7 201.8 L474.0 204.4 L471.3 207.0 L468.6 209.7 L463.3 217.7 L471.2 212.1 L473.7 209.4 L476.3 206.7 L478.9 204.0 L481.5 201.3 L484.2 198.7 L486.8 196.1 L489.5 193.6 L492.2 191.0 L494.9 188.5 L497.6 186.1 L500.4 183.6 L503.1 181.2 L505.9 178.9 L508.7 176.5 L511.5 174.2 L514.4 172.0 L517.2 169.7 L520.1 167.5 L523.0 165.3 L525.9 163.2 L528.9 161.1 L531.8 159.0 L534.8 157.0 L537.8 155.0Z" fill="#f4a2a6" opacity="0.45" filter="url(#blur1)"/><linearGradient id="ag13" gradientUnits="userSpaceOnUse" x1="439.8" y1="163.0" x2="397.9" y2="230.8"><stop offset="0" stop-color="#6a92dc" stop-opacity="0.75"/><stop offset="0.08" stop-color="#7298de" stop-opacity="1"/><stop offset="0.3" stop-color="#789ce0"/><stop offset="0.55" stop-color="#668edb"/><stop offset="0.8" stop-color="#4f7dd1"/><stop offset="1" stop-color="#4674c8"/></linearGradient><path d="M438.9 162.1 L437.5 163.3 L436.2 164.6 L434.8 166.0 L433.4 167.5 L432.0 169.1 L430.6 170.7 L429.1 172.4 L427.7 174.2 L426.2 176.0 L424.8 177.9 L423.3 179.9 L421.8 182.0 L420.3 184.1 L418.8 186.4 L417.3 188.7 L415.7 191.0 L414.2 193.5 L412.6 196.0 L411.0 198.6 L409.5 201.2 L407.9 204.0 L406.3 206.8 L404.6 209.7 L403.0 212.6 L401.1 211.1 L397.9 230.8 L411.6 216.5 L409.2 215.8 L410.7 212.8 L412.1 209.9 L413.6 207.1 L415.0 204.3 L416.4 201.6 L417.8 198.9 L419.2 196.4 L420.5 193.9 L421.9 191.5 L423.2 189.1 L424.6 186.9 L425.9 184.7 L427.2 182.5 L428.5 180.5 L429.8 178.5 L431.0 176.6 L432.3 174.8 L433.5 173.0 L434.8 171.3 L436.0 169.7 L437.2 168.2 L438.4 166.7 L439.6 165.3 L440.7 163.9Z" fill="url(#ag13)" filter="url(#soft)"/><path d="M439.4 162.6 L438.1 163.9 L436.8 165.2 L435.5 166.6 L434.1 168.1 L432.8 169.7 L431.4 171.4 L430.1 173.1 L428.7 174.9 L427.3 176.7 L425.9 178.7 L424.4 180.7 L423.0 182.8 L421.5 184.9 L420.1 187.2 L418.6 189.5 L417.1 191.9 L415.6 194.3 L414.1 196.8 L412.6 199.4 L411.1 202.1 L409.5 204.9 L408.0 207.7 L406.4 210.6 L404.8 213.5 L402.3 221.6 L407.4 214.9 L408.9 211.9 L410.4 209.0 L411.9 206.2 L413.4 203.4 L414.8 200.7 L416.3 198.1 L417.7 195.5 L419.1 193.1 L420.6 190.7 L421.9 188.3 L423.3 186.1 L424.7 183.9 L426.1 181.8 L427.4 179.8 L428.7 177.8 L430.1 175.9 L431.4 174.1 L432.7 172.3 L434.0 170.7 L435.2 169.1 L436.5 167.5 L437.7 166.1 L439.0 164.7 L440.2 163.4Z" fill="#a9c1ee" opacity="0.45" filter="url(#blur1)"/><linearGradient id="ag14" gradientUnits="userSpaceOnUse" x1="452.2" y1="159.4" x2="430.0" y2="234.5"><stop offset="0" stop-color="#6a92dc" stop-opacity="0.75"/><stop offset="0.08" stop-color="#7298de" stop-opacity="1"/><stop offset="0.3" stop-color="#789ce0"/><stop offset="0.55" stop-color="#668edb"/><stop offset="0.8" stop-color="#4f7dd1"/><stop offset="1" stop-color="#4674c8"/></linearGradient><path d="M451.0 158.8 L450.1 160.6 L449.1 162.4 L448.1 164.3 L447.2 166.2 L446.3 168.2 L445.3 170.3 L444.4 172.3 L443.5 174.5 L442.6 176.7 L441.7 178.9 L440.8 181.2 L439.9 183.5 L439.1 185.9 L438.2 188.4 L437.3 190.8 L436.5 193.4 L435.6 196.0 L434.8 198.6 L434.0 201.3 L433.1 204.0 L432.3 206.8 L431.5 209.7 L430.7 212.6 L429.9 215.5 L427.6 214.5 L430.0 234.5 L440.3 217.4 L437.7 217.3 L438.3 214.4 L438.9 211.5 L439.5 208.6 L440.1 205.8 L440.7 203.1 L441.3 200.4 L441.9 197.7 L442.5 195.1 L443.1 192.6 L443.8 190.1 L444.4 187.6 L445.1 185.2 L445.7 182.8 L446.4 180.5 L447.1 178.2 L447.7 176.0 L448.4 173.8 L449.1 171.7 L449.8 169.6 L450.5 167.6 L451.2 165.6 L451.9 163.7 L452.7 161.8 L453.4 160.0Z" fill="url(#ag14)" filter="url(#soft)"/><path d="M451.7 159.2 L450.8 161.0 L449.9 162.8 L449.0 164.7 L448.2 166.6 L447.3 168.6 L446.4 170.7 L445.6 172.8 L444.7 174.9 L443.9 177.1 L443.1 179.4 L442.2 181.7 L441.4 184.0 L440.6 186.4 L439.8 188.8 L439.0 191.3 L438.2 193.9 L437.4 196.5 L436.7 199.1 L435.9 201.8 L435.2 204.6 L434.4 207.4 L433.7 210.2 L432.9 213.1 L432.2 216.0 L432.0 224.5 L435.5 216.8 L436.1 213.8 L436.7 210.9 L437.4 208.1 L438.1 205.3 L438.7 202.6 L439.4 199.9 L440.1 197.2 L440.8 194.6 L441.5 192.1 L442.2 189.6 L442.9 187.1 L443.6 184.7 L444.3 182.3 L445.0 180.0 L445.8 177.8 L446.5 175.6 L447.3 173.4 L448.0 171.3 L448.8 169.2 L449.5 167.2 L450.3 165.3 L451.1 163.3 L451.9 161.5 L452.7 159.6Z" fill="#a9c1ee" opacity="0.45" filter="url(#blur1)"/><linearGradient id="ag15" gradientUnits="userSpaceOnUse" x1="480.0" y1="159.4" x2="501.9" y2="234.2"><stop offset="0" stop-color="#6a92dc" stop-opacity="0.75"/><stop offset="0.08" stop-color="#7298de" stop-opacity="1"/><stop offset="0.3" stop-color="#789ce0"/><stop offset="0.55" stop-color="#668edb"/><stop offset="0.8" stop-color="#4f7dd1"/><stop offset="1" stop-color="#4674c8"/></linearGradient><path d="M478.8 160.0 L479.7 162.0 L480.6 164.1 L481.4 166.2 L482.2 168.3 L483.0 170.5 L483.8 172.7 L484.6 174.9 L485.4 177.1 L486.1 179.4 L486.8 181.7 L487.5 184.0 L488.2 186.4 L488.9 188.7 L489.6 191.1 L490.2 193.6 L490.8 196.0 L491.4 198.5 L492.0 201.0 L492.6 203.6 L493.1 206.1 L493.7 208.7 L494.2 211.4 L494.7 214.0 L495.2 216.7 L492.6 216.7 L501.9 234.2 L504.4 214.3 L502.0 215.3 L501.4 212.6 L500.7 209.9 L500.0 207.3 L499.3 204.6 L498.5 202.1 L497.8 199.5 L497.0 197.0 L496.2 194.5 L495.4 192.0 L494.6 189.6 L493.7 187.2 L492.9 184.8 L492.0 182.5 L491.1 180.2 L490.2 177.9 L489.3 175.7 L488.3 173.4 L487.3 171.3 L486.4 169.1 L485.4 167.0 L484.3 164.9 L483.3 162.8 L482.2 160.8 L481.2 158.8Z" fill="url(#ag15)" filter="url(#soft)"/><path d="M479.5 159.6 L480.4 161.7 L481.4 163.7 L482.3 165.8 L483.1 167.9 L484.0 170.1 L484.9 172.3 L485.7 174.5 L486.5 176.7 L487.3 179.0 L488.1 181.2 L488.8 183.6 L489.6 185.9 L490.3 188.3 L491.0 190.7 L491.7 193.1 L492.4 195.6 L493.0 198.1 L493.7 200.6 L494.3 203.1 L494.9 205.7 L495.5 208.3 L496.1 210.9 L496.6 213.6 L497.2 216.3 L500.3 224.1 L500.0 215.7 L499.4 213.0 L498.8 210.3 L498.1 207.7 L497.5 205.1 L496.8 202.5 L496.1 200.0 L495.4 197.4 L494.6 194.9 L493.9 192.5 L493.1 190.0 L492.3 187.6 L491.5 185.3 L490.7 182.9 L489.9 180.6 L489.0 178.3 L488.1 176.1 L487.2 173.9 L486.3 171.7 L485.4 169.5 L484.5 167.4 L483.5 165.3 L482.5 163.2 L481.5 161.2 L480.5 159.2Z" fill="#a9c1ee" opacity="0.45" filter="url(#blur1)"/><linearGradient id="ag16" gradientUnits="userSpaceOnUse" x1="571.6" y1="215.4" x2="572.3" y2="260.5"><stop offset="0" stop-color="#6a92dc" stop-opacity="0.75"/><stop offset="0.08" stop-color="#7298de" stop-opacity="1"/><stop offset="0.3" stop-color="#789ce0"/><stop offset="0.55" stop-color="#668edb"/><stop offset="0.8" stop-color="#4f7dd1"/><stop offset="1" stop-color="#4674c8"/></linearGradient><path d="M570.3 215.6 L570.5 217.0 L570.7 218.3 L570.8 219.7 L571.0 221.0 L571.1 222.3 L571.2 223.7 L571.3 225.0 L571.4 226.3 L571.5 227.7 L571.6 229.0 L571.6 230.3 L571.7 231.6 L571.7 233.0 L571.7 234.3 L571.7 235.6 L571.7 236.9 L571.6 238.2 L571.6 239.6 L571.5 240.9 L571.4 242.2 L571.4 243.5 L571.3 244.8 L571.1 246.1 L571.0 247.4 L568.5 246.8 L572.3 260.5 L579.0 247.4 L576.5 247.8 L576.5 246.4 L576.5 245.0 L576.5 243.6 L576.5 242.3 L576.4 240.9 L576.4 239.5 L576.3 238.2 L576.2 236.8 L576.1 235.5 L576.0 234.1 L575.9 232.7 L575.8 231.4 L575.6 230.0 L575.4 228.7 L575.2 227.3 L575.0 225.9 L574.8 224.6 L574.6 223.2 L574.3 221.9 L574.1 220.5 L573.8 219.2 L573.5 217.8 L573.2 216.5 L572.9 215.2Z" fill="url(#ag16)" filter="url(#soft)"/><path d="M571.1 215.5 L571.3 216.8 L571.5 218.2 L571.7 219.5 L571.9 220.9 L572.1 222.2 L572.2 223.5 L572.4 224.9 L572.5 226.2 L572.6 227.6 L572.7 228.9 L572.8 230.2 L572.8 231.6 L572.9 232.9 L572.9 234.2 L573.0 235.6 L573.0 236.9 L573.0 238.2 L573.0 239.6 L573.0 240.9 L572.9 242.2 L572.9 243.5 L572.8 244.9 L572.7 246.2 L572.6 247.5 L573.4 253.4 L574.9 247.7 L575.0 246.3 L575.0 245.0 L575.0 243.6 L575.0 242.2 L575.0 240.9 L575.0 239.5 L575.0 238.2 L574.9 236.8 L574.8 235.5 L574.8 234.1 L574.7 232.8 L574.6 231.4 L574.4 230.1 L574.3 228.8 L574.2 227.4 L574.0 226.1 L573.8 224.7 L573.6 223.4 L573.4 222.0 L573.2 220.7 L572.9 219.3 L572.7 218.0 L572.4 216.6 L572.1 215.3Z" fill="#a9c1ee" opacity="0.45" filter="url(#blur1)"/><linearGradient id="ag17" gradientUnits="userSpaceOnUse" x1="396.2" y1="285.0" x2="455.5" y2="361.5"><stop offset="0" stop-color="#6a92dc" stop-opacity="0.75"/><stop offset="0.08" stop-color="#7298de" stop-opacity="1"/><stop offset="0.3" stop-color="#789ce0"/><stop offset="0.55" stop-color="#668edb"/><stop offset="0.8" stop-color="#4f7dd1"/><stop offset="1" stop-color="#4674c8"/></linearGradient><path d="M394.9 285.3 L395.4 287.5 L396.0 289.7 L396.8 291.9 L397.6 294.2 L398.6 296.6 L399.6 299.0 L400.8 301.4 L402.1 303.9 L403.5 306.4 L405.0 309.0 L406.6 311.6 L408.3 314.3 L410.2 317.0 L412.1 319.7 L414.2 322.5 L416.3 325.4 L418.6 328.3 L421.0 331.2 L423.4 334.2 L426.0 337.2 L428.7 340.3 L431.6 343.4 L434.5 346.6 L437.5 349.8 L435.4 351.2 L455.5 361.5 L444.6 342.0 L443.2 344.1 L440.0 341.1 L437.0 338.2 L434.1 335.3 L431.3 332.4 L428.6 329.6 L426.0 326.8 L423.5 324.1 L421.2 321.4 L418.9 318.8 L416.7 316.2 L414.7 313.6 L412.7 311.1 L410.9 308.7 L409.1 306.3 L407.5 303.9 L406.0 301.6 L404.5 299.3 L403.2 297.1 L402.0 294.9 L400.9 292.8 L399.9 290.7 L399.0 288.6 L398.2 286.6 L397.5 284.7Z" fill="url(#ag17)" filter="url(#soft)"/><path d="M395.7 285.1 L396.2 287.2 L396.9 289.4 L397.7 291.6 L398.6 293.8 L399.6 296.1 L400.7 298.4 L401.9 300.8 L403.2 303.2 L404.6 305.7 L406.2 308.2 L407.8 310.8 L409.6 313.4 L411.5 316.0 L413.4 318.7 L415.5 321.4 L417.7 324.2 L420.0 327.1 L422.4 329.9 L424.9 332.9 L427.6 335.8 L430.3 338.8 L433.1 341.9 L436.1 345.0 L439.1 348.2 L447.0 353.7 L441.5 345.8 L438.4 342.7 L435.4 339.7 L432.6 336.7 L429.8 333.8 L427.1 330.9 L424.6 328.1 L422.1 325.3 L419.8 322.6 L417.5 319.9 L415.4 317.2 L413.4 314.6 L411.4 312.0 L409.6 309.5 L407.9 307.1 L406.3 304.6 L404.8 302.3 L403.5 299.9 L402.2 297.6 L401.0 295.4 L399.9 293.2 L399.0 291.0 L398.1 288.9 L397.4 286.9 L396.7 284.9Z" fill="#a9c1ee" opacity="0.45" filter="url(#blur1)"/><linearGradient id="ag18" gradientUnits="userSpaceOnUse" x1="447.0" y1="286.0" x2="464.2" y2="363.0"><stop offset="0" stop-color="#6a92dc" stop-opacity="0.75"/><stop offset="0.08" stop-color="#7298de" stop-opacity="1"/><stop offset="0.3" stop-color="#789ce0"/><stop offset="0.55" stop-color="#668edb"/><stop offset="0.8" stop-color="#4f7dd1"/><stop offset="1" stop-color="#4674c8"/></linearGradient><path d="M445.7 286.0 L445.6 288.4 L445.6 290.8 L445.5 293.1 L445.6 295.5 L445.6 297.9 L445.7 300.3 L445.8 302.7 L446.0 305.1 L446.2 307.6 L446.4 310.0 L446.7 312.4 L446.9 314.8 L447.3 317.3 L447.6 319.7 L448.0 322.2 L448.4 324.7 L448.9 327.1 L449.4 329.6 L449.9 332.1 L450.5 334.6 L451.0 337.1 L451.7 339.6 L452.3 342.1 L453.0 344.6 L450.5 344.9 L464.2 363.0 L462.8 340.9 L460.6 342.1 L459.8 339.8 L458.9 337.4 L458.1 335.0 L457.3 332.7 L456.6 330.3 L455.9 328.0 L455.2 325.6 L454.6 323.3 L453.9 321.0 L453.3 318.6 L452.8 316.3 L452.3 313.9 L451.8 311.6 L451.3 309.3 L450.9 306.9 L450.5 304.6 L450.1 302.3 L449.7 299.9 L449.4 297.6 L449.1 295.3 L448.9 293.0 L448.7 290.6 L448.5 288.3 L448.3 286.0Z" fill="url(#ag18)" filter="url(#soft)"/><path d="M446.5 286.0 L446.4 288.4 L446.5 290.7 L446.5 293.1 L446.6 295.5 L446.7 297.8 L446.9 300.2 L447.1 302.6 L447.3 305.0 L447.5 307.4 L447.8 309.8 L448.1 312.2 L448.5 314.6 L448.9 317.0 L449.3 319.4 L449.7 321.8 L450.2 324.3 L450.7 326.7 L451.3 329.1 L451.8 331.6 L452.5 334.0 L453.1 336.5 L453.8 338.9 L454.5 341.4 L455.2 343.9 L459.7 352.3 L458.4 342.8 L457.6 340.4 L456.8 338.0 L456.1 335.6 L455.3 333.2 L454.7 330.8 L454.0 328.5 L453.4 326.1 L452.8 323.7 L452.2 321.3 L451.7 318.9 L451.2 316.6 L450.7 314.2 L450.3 311.8 L449.9 309.5 L449.5 307.1 L449.2 304.8 L448.9 302.4 L448.6 300.0 L448.3 297.7 L448.1 295.4 L447.9 293.0 L447.8 290.7 L447.6 288.3 L447.5 286.0Z" fill="#a9c1ee" opacity="0.45" filter="url(#blur1)"/><linearGradient id="ag19" gradientUnits="userSpaceOnUse" x1="498.4" y1="288.0" x2="474.5" y2="361.0"><stop offset="0" stop-color="#6a92dc" stop-opacity="0.75"/><stop offset="0.08" stop-color="#7298de" stop-opacity="1"/><stop offset="0.3" stop-color="#789ce0"/><stop offset="0.55" stop-color="#668edb"/><stop offset="0.8" stop-color="#4f7dd1"/><stop offset="1" stop-color="#4674c8"/></linearGradient><path d="M497.1 287.9 L496.8 290.1 L496.4 292.2 L496.0 294.4 L495.6 296.6 L495.1 298.8 L494.6 301.0 L494.1 303.2 L493.5 305.4 L492.9 307.5 L492.3 309.7 L491.6 311.9 L491.0 314.1 L490.2 316.3 L489.5 318.5 L488.7 320.7 L487.9 322.9 L487.0 325.1 L486.1 327.3 L485.2 329.5 L484.3 331.7 L483.3 333.9 L482.3 336.2 L481.3 338.4 L480.2 340.6 L478.1 339.1 L474.5 361.0 L490.0 344.4 L487.5 343.8 L488.4 341.4 L489.3 339.0 L490.1 336.7 L491.0 334.3 L491.7 331.9 L492.5 329.6 L493.2 327.2 L493.8 324.9 L494.5 322.5 L495.1 320.2 L495.6 317.8 L496.2 315.5 L496.7 313.2 L497.1 310.9 L497.5 308.6 L497.9 306.3 L498.3 304.0 L498.6 301.7 L498.9 299.4 L499.1 297.1 L499.3 294.9 L499.5 292.6 L499.6 290.4 L499.7 288.1Z" fill="url(#ag19)" filter="url(#soft)"/><path d="M497.9 288.0 L497.6 290.2 L497.3 292.4 L497.0 294.6 L496.6 296.8 L496.2 299.0 L495.8 301.2 L495.3 303.4 L494.8 305.6 L494.3 307.8 L493.7 310.1 L493.1 312.3 L492.5 314.5 L491.8 316.8 L491.1 319.0 L490.4 321.2 L489.6 323.5 L488.8 325.7 L488.0 328.0 L487.1 330.2 L486.2 332.5 L485.3 334.7 L484.3 337.0 L483.3 339.3 L482.3 341.5 L480.0 350.8 L485.4 342.9 L486.3 340.5 L487.3 338.2 L488.2 335.9 L489.0 333.5 L489.8 331.2 L490.6 328.9 L491.4 326.6 L492.1 324.3 L492.8 322.0 L493.5 319.7 L494.1 317.4 L494.7 315.1 L495.2 312.8 L495.7 310.6 L496.2 308.3 L496.6 306.0 L497.1 303.7 L497.4 301.5 L497.8 299.2 L498.1 297.0 L498.3 294.7 L498.6 292.5 L498.8 290.3 L498.9 288.0Z" fill="#a9c1ee" opacity="0.45" filter="url(#blur1)"/><linearGradient id="ag20" gradientUnits="userSpaceOnUse" x1="550.9" y1="296.3" x2="491.0" y2="356.5"><stop offset="0" stop-color="#6a92dc" stop-opacity="0.75"/><stop offset="0.08" stop-color="#7298de" stop-opacity="1"/><stop offset="0.3" stop-color="#789ce0"/><stop offset="0.55" stop-color="#668edb"/><stop offset="0.8" stop-color="#4f7dd1"/><stop offset="1" stop-color="#4674c8"/></linearGradient><path d="M549.8 295.7 L548.3 298.1 L546.8 300.4 L545.3 302.7 L543.7 305.0 L542.1 307.2 L540.5 309.4 L538.8 311.6 L537.1 313.7 L535.4 315.8 L533.7 317.9 L531.9 319.9 L530.0 321.8 L528.2 323.8 L526.3 325.7 L524.4 327.5 L522.4 329.3 L520.4 331.1 L518.4 332.9 L516.3 334.6 L514.2 336.2 L512.1 337.9 L509.9 339.5 L507.7 341.0 L505.5 342.6 L504.6 340.4 L491.0 356.5 L512.0 350.5 L510.2 349.0 L512.4 347.2 L514.6 345.4 L516.8 343.6 L518.9 341.7 L520.9 339.8 L522.9 337.8 L524.9 335.8 L526.8 333.8 L528.7 331.7 L530.5 329.7 L532.4 327.5 L534.1 325.4 L535.8 323.2 L537.5 321.0 L539.2 318.7 L540.8 316.4 L542.3 314.1 L543.8 311.7 L545.3 309.4 L546.7 306.9 L548.1 304.5 L549.5 302.0 L550.8 299.5 L552.0 296.9Z" fill="url(#ag20)" filter="url(#soft)"/><path d="M550.4 296.0 L549.0 298.5 L547.6 300.9 L546.1 303.2 L544.6 305.6 L543.0 307.9 L541.5 310.1 L539.8 312.3 L538.2 314.5 L536.5 316.6 L534.8 318.8 L533.0 320.8 L531.2 322.9 L529.4 324.9 L527.5 326.8 L525.6 328.7 L523.7 330.6 L521.7 332.5 L519.7 334.3 L517.6 336.1 L515.6 337.8 L513.4 339.5 L511.3 341.2 L509.1 342.8 L506.9 344.4 L500.6 351.1 L508.9 347.1 L511.1 345.4 L513.3 343.7 L515.4 341.9 L517.5 340.1 L519.6 338.3 L521.6 336.4 L523.6 334.5 L525.5 332.5 L527.4 330.5 L529.3 328.5 L531.1 326.4 L532.9 324.3 L534.7 322.2 L536.4 320.1 L538.1 317.9 L539.7 315.6 L541.3 313.4 L542.9 311.1 L544.4 308.7 L545.9 306.4 L547.3 304.0 L548.7 301.5 L550.1 299.1 L551.4 296.6Z" fill="#a9c1ee" opacity="0.45" filter="url(#blur1)"/><path d="M455 254.6 L470.5 254.6 L470.5 251.6 L483.5 256.6 L470.5 261.6 L470.5 258.6 L455 258.6 Z" fill="#4a7bd2" filter="url(#soft)"/><path d="M445.1 223.1 L449.8 226.8 L455.7 220.4 L455.5 227.3 L463.7 225.7 L459.7 229.7 L464.3 231.7 L460.4 234.7 L462.4 238.3 L456.0 238.7 L458.4 244.9 L449.8 241.0 L439.2 247.6 L439.9 241.0 L430.6 242.3 L434.8 237.0 L425.3 234.3 L433.9 232.1 L431.2 229.0 L437.9 228.6 L433.2 222.4 L441.8 227.1Z" fill="#e60020" filter="url(#soft)"/><text x="448.4" y="236.8" font-size="10.5" font-weight="bold" fill="#000" text-anchor="middle" textLength="26.5" lengthAdjust="spacingAndGlyphs" stroke="#fff" stroke-width="3" paint-order="stroke" stroke-linejoin="round" filter="url(#tb)">DDos</text><path d="M449.3 293.0 L452.2 296.3 L461.8 292.7 L455.9 298.2 L464.0 297.8 L457.4 300.4 L469.1 301.8 L456.6 303.7 L464.3 308.1 L452.9 305.5 L455.1 311.8 L447.1 306.3 L436.4 310.7 L440.4 304.8 L432.7 305.2 L438.2 302.6 L430.5 300.0 L438.6 299.3 L432.0 295.6 L440.8 296.3 L439.3 291.2 L447.1 296.0Z" fill="#e60020" filter="url(#soft)"/><rect x="389.5" y="265.3" width="61.2" height="21.4" rx="10.7" fill="#0aa6ea" stroke="#0b5d8e" stroke-width="1"/><text x="419.4" y="279.4" font-size="13" font-weight="normal" fill="#ffff00" text-anchor="middle" textLength="38.8" lengthAdjust="spacingAndGlyphs" stroke="#ffff00" stroke-width="0.8" filter="url(#tb)">CS서버</text><rect x="459" y="265.3" width="81.6" height="21.4" rx="10.7" fill="#f26e00" stroke="#7a3c00" stroke-width="1"/><text x="500.0" y="280.0" font-size="11.8" font-weight="normal" fill="#ffff00" text-anchor="middle" textLength="68.0" lengthAdjust="spacingAndGlyphs" stroke="#ffff00" stroke-width="0.65" filter="url(#tb)">CS서버방어서버</text><use href="#server" x="458.5" y="351.0"/><rect x="425.0" y="391.5" width="95.4" height="25" rx="12.5" fill="url(#gmain)" stroke="#0a7a3c" stroke-width="1"/><text x="471.7" y="408.8" font-size="13.5" font-weight="normal" fill="#fff" text-anchor="middle" textLength="33.6" lengthAdjust="spacingAndGlyphs" stroke="#fff" stroke-width="0.6" filter="url(#tsh)">본서버</text><path d="M35.3 440 a6 6 0 0 1 6 -6 h63.5 a6 6 0 0 1 6 6 v2.3 h178 a6 6 0 0 1 6 6 v82.7 a6 6 0 0 1 -6 6 h-247.5 a6 6 0 0 1 -6 -6 Z" fill="#55812a"/><path d="M355.3 440 a6 6 0 0 1 6 -6 h63.5 a6 6 0 0 1 6 6 v2.3 h178 a6 6 0 0 1 6 6 v72.7 a6 6 0 0 1 -6 6 h-247.5 a6 6 0 0 1 -6 -6 Z" fill="#2c58b1"/><text x="56.0" y="452.4" font-size="13" font-weight="normal" fill="#f6f200" text-anchor="start" textLength="28.0" lengthAdjust="spacingAndGlyphs" stroke="#f6f200" stroke-width="0.6" filter="url(#tb)">특 징</text><text x="376.0" y="452.4" font-size="13" font-weight="normal" fill="#f6f200" text-anchor="start" textLength="28.0" lengthAdjust="spacingAndGlyphs" stroke="#f6f200" stroke-width="0.6" filter="url(#tb)">특 징</text><text y="472.2" font-size="11" fill="#fff" stroke="#fff" stroke-width="0.3" filter="url(#tb)" xml:space="preserve"><tspan x="44.8" textLength="7.4" lengthAdjust="spacingAndGlyphs">– </tspan><tspan x="54.0" textLength="162.5" lengthAdjust="spacingAndGlyphs">웹서비스를 평상시 CS서버로 우회 사용</tspan></text><text y="486.2" font-size="11" fill="#fff" stroke="#fff" stroke-width="0.3" filter="url(#tb)" xml:space="preserve"><tspan x="44.8" textLength="7.4" lengthAdjust="spacingAndGlyphs">– </tspan><tspan x="54.0" textLength="129.5" lengthAdjust="spacingAndGlyphs">앞단 CS 서버를 여러 개로 분리</tspan></text><text y="500.2" font-size="11" fill="#fff" stroke="#fff" stroke-width="0.3" filter="url(#tb)" xml:space="preserve"><tspan x="44.8" textLength="7.4" lengthAdjust="spacingAndGlyphs">– </tspan><tspan x="54.0" textLength="191.3" lengthAdjust="spacingAndGlyphs">공격시 앞단 CS서버만 차단, 나머지 CS서버는</tspan></text><text y="514.2" font-size="11" fill="#fff" stroke="#fff" stroke-width="0.3" filter="url(#tb)" xml:space="preserve"><tspan x="54.6" textLength="70.4" lengthAdjust="spacingAndGlyphs">정상 서비스 가능</tspan></text><text y="528.2" font-size="11" fill="#fff" stroke="#fff" stroke-width="0.3" filter="url(#tb)" xml:space="preserve"><tspan x="44.8" textLength="7.4" lengthAdjust="spacingAndGlyphs">– </tspan><tspan x="54.0" textLength="165.4" lengthAdjust="spacingAndGlyphs">CS서버 차단 해제 시 IP변경해서 서비스</tspan></text><text y="473.4" font-size="11" fill="#fff" stroke="#fff" stroke-width="0.3" filter="url(#tb)" xml:space="preserve"><tspan x="364.6" textLength="7.4" lengthAdjust="spacingAndGlyphs">– </tspan><tspan x="373.8" textLength="110.6" lengthAdjust="spacingAndGlyphs">평상시는 CS서비스와 동일</tspan></text><text y="491.9" font-size="11" fill="#fff" stroke="#fff" stroke-width="0.3" filter="url(#tb)" xml:space="preserve"><tspan x="364.6" textLength="7.4" lengthAdjust="spacingAndGlyphs">– </tspan><tspan x="373.8" textLength="204.4" lengthAdjust="spacingAndGlyphs">CS 서버 공격으로 차단 시 방어존 CS서버로 변경</tspan></text><text y="510.0" font-size="11" fill="#fff" stroke="#fff" stroke-width="0.3" filter="url(#tb)" xml:space="preserve"><tspan x="364.6" textLength="7.4" lengthAdjust="spacingAndGlyphs">– </tspan><tspan x="373.8" textLength="187.9" lengthAdjust="spacingAndGlyphs">공격 해제 시 CS IP 변경 후  서비스 원상복구</tspan></text></svg>
</body></html>
